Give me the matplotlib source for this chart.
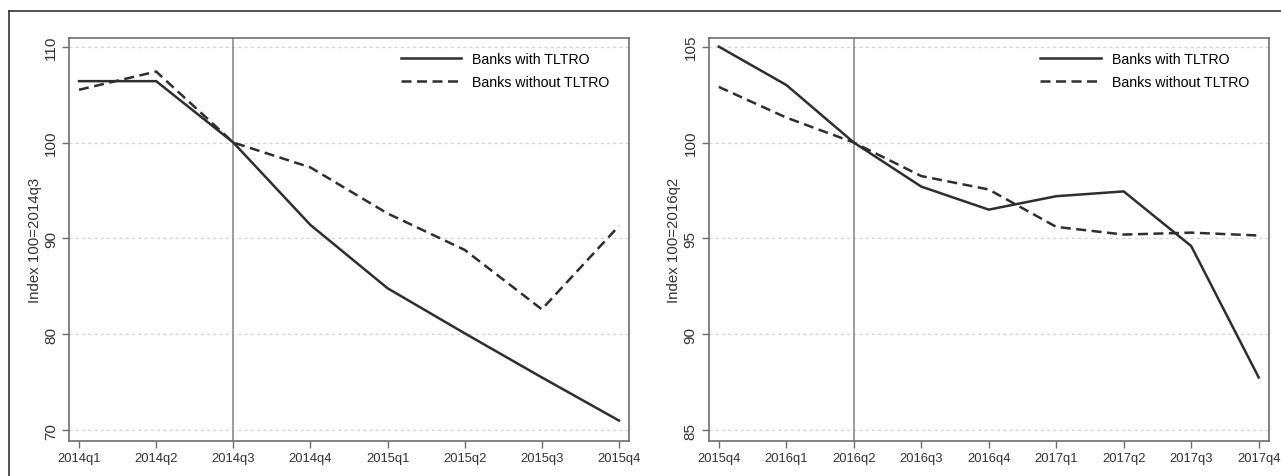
import matplotlib.pyplot as plt
from matplotlib.lines import Line2D

plt.rcParams['font.family'] = ['Liberation Sans', 'DejaVu Sans']

# left panel: 2014q1 - 2015q4, index 100 = 2014q3
quarters_a = ['2014q1', '2014q2', '2014q3', '2014q4',
              '2015q1', '2015q2', '2015q3', '2015q4']
with_a = [106.4, 106.4, 100.0, 91.4, 84.8, 80.1, 75.5, 71.0]
without_a = [105.5, 107.4, 100.0, 97.4, 92.6, 88.8, 82.6, 91.3]

# right panel: 2015q4 - 2017q4, index 100 = 2016q2
quarters_b = ['2015q4', '2016q1', '2016q2', '2016q3', '2016q4',
              '2017q1', '2017q2', '2017q3', '2017q4']
with_b = [105.0, 103.0, 100.0, 97.7, 96.5, 97.2, 97.45, 94.6, 87.75]
without_b = [102.9, 101.3, 100.0, 98.25, 97.55, 95.6, 95.2, 95.3, 95.15]

panels = [
    (quarters_a, with_a, without_a, '2014q3', [70, 80, 90, 100, 110],
     (68.9, 110.9), 'Index 100=2014q3'),
    (quarters_b, with_b, without_b, '2016q2', [85, 90, 95, 100, 105],
     (84.45, 105.45), 'Index 100=2016q2'),
]

W, H = 1281, 477
fig = plt.figure(figsize=(W / 100, H / 100), dpi=100)

axes_px = [(69.4, 628.6), (708.7, 1268.8)]
top_px, bot_px = 39, 441.7

line_col = '#2e2e2e'
frame_col = '#6e6e6e'
text_col = '#333333'

for (x0, x1), (qs, w, wo, ref, yt, ylim, ylab) in zip(axes_px, panels):
    ax = fig.add_axes([x0 / W, 1 - bot_px / H, (x1 - x0) / W, (bot_px - top_px) / H])
    x = list(range(len(qs)))
    pad = 0.125 if len(qs) == 8 else 0.15
    ax.set_xlim(-pad, len(qs) - 1 + pad)
    ax.set_ylim(*ylim)

    for v in yt:
        ax.axhline(v, color='#d4d4d4', lw=0.9, ls=(0, (2.5, 2.5)), zorder=0)
    ax.axvline(qs.index(ref), color='#8c8c8c', lw=1.2, zorder=1)

    ax.plot(x, w, color=line_col, lw=1.8, label='Banks with TLTRO', zorder=3)
    ax.plot(x, wo, color=line_col, lw=1.8, ls=(0, (4, 2.2)),
            label='Banks without TLTRO', zorder=3)

    ax.set_xticks(x)
    ax.set_xticklabels(qs, fontsize=9.4, color=text_col)
    ax.set_yticks(yt)
    ax.set_yticklabels([str(v) for v in yt], fontsize=11, rotation=90,
                       va='center', color=text_col)
    ax.set_ylabel(ylab, fontsize=10.8, color=text_col, labelpad=2)
    ax.tick_params(direction='out', length=5, width=1, color=frame_col, pad=3)
    for s in ax.spines.values():
        s.set_color(frame_col)
        s.set_linewidth(1.2)

    ax.legend(loc='upper left', frameon=False, fontsize=10.2,
              handlelength=4.3, handletextpad=0.75, labelspacing=0.66,
              borderaxespad=0, bbox_to_anchor=(0.582, 0.98))

# outer frame around the figure
fig.add_artist(Line2D([9 / W, 1], [1 - 12 / H, 1 - 12 / H], color='#333333', lw=1.2))
fig.add_artist(Line2D([9 / W, 9 / W], [0, 1 - 12 / H], color='#333333', lw=1.2))

fig.savefig('out.png', dpi=100, facecolor='white')
